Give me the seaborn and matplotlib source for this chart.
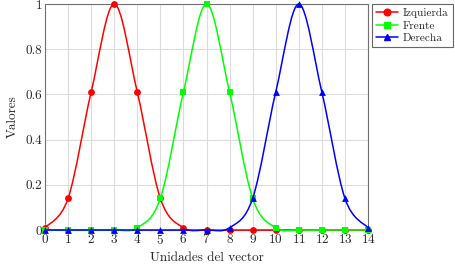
import matplotlib
matplotlib.use("Agg")
import matplotlib.pyplot as plt
from matplotlib.path import Path
from matplotlib.patches import PathPatch
from matplotlib.lines import Line2D
import numpy as np
import pandas as pd
import seaborn as sns

x = list(range(15))
izquierda = [0.01, 0.14, 0.61, 1.0, 0.61, 0.14, 0.01, 0.0, 0.0, 0.0, 0.0, 0.0, 0.0, 0.0, 0.0]
frente = [0.0, 0.0, 0.0, 0.0, 0.01, 0.14, 0.61, 1.0, 0.61, 0.14, 0.01, 0.0, 0.0, 0.0, 0.0]
derecha = [0.0, 0.0, 0.0, 0.0, 0.0, 0.0, 0.0, 0.0, 0.01, 0.14, 0.61, 1.0, 0.61, 0.14, 0.01]

series = [("Izquierda", izquierda, "#ff0000", "o"),
          ("Frente", frente, "#00ff00", "s"),
          ("Derecha", derecha, "#0000ff", "^")]

sns.set_theme(style="whitegrid")
plt.rcParams["font.family"] = ["cmr10", "DejaVu Serif"]
plt.rcParams["mathtext.fontset"] = "cm"
plt.rcParams["axes.formatter.use_mathtext"] = True


def smooth_path(xs, ys, t=1 / 6):
    # bezier through the points (catmull-rom style, like pgfplots "smooth")
    pts = np.column_stack([xs, ys]).astype(float)
    verts = [pts[0]]
    codes = [Path.MOVETO]
    n = len(pts)
    for i in range(n - 1):
        p0 = pts[i - 1] if i > 0 else pts[i]
        p1 = pts[i]
        p2 = pts[i + 1]
        p3 = pts[i + 2] if i + 2 < n else pts[i + 1]
        c1 = p1 + (p2 - p0) * t
        c2 = p2 - (p3 - p1) * t
        verts += [c1, c2, p2]
        codes += [Path.CURVE4] * 3
    return Path(verts, codes)


fig = plt.figure(figsize=(4.55, 2.66), dpi=100)
ax = fig.add_axes([45 / 455, 1 - 230 / 266, (368 - 45) / 455, (230 - 4) / 266])

handles = []
for k, (name, vals, col, mk) in enumerate(series):
    patch = PathPatch(smooth_path(x, vals), facecolor="none", edgecolor=col,
                      lw=1.1, zorder=3 + 2 * k, clip_on=False)
    ax.add_patch(patch)
    df = pd.DataFrame({"x": x, "y": vals})
    sns.scatterplot(data=df, x="x", y="y", ax=ax, color=col, marker=mk, s=24,
                    edgecolor=col, linewidth=0, zorder=4 + 2 * k, clip_on=False, legend=False)
    handles.append(Line2D([], [], color=col, marker=mk, lw=1.1, markersize=4.8, label=name))

ax.set_xlim(0, 14)
ax.set_ylim(0, 1)
ax.set_xticks(range(15))
ax.set_yticks([0, 0.2, 0.4, 0.6, 0.8, 1])
ax.set_yticklabels(["0", "0.2", "0.4", "0.6", "0.8", "1"])
ax.tick_params(labelsize=9.5, length=0, pad=2)
ax.grid(True, color="#dcdcdc", lw=0.8)
for sp in ax.spines.values():
    sp.set_color("#707070")
    sp.set_linewidth(0.8)
ax.set_xlabel("Unidades del vector", fontsize=9.5, labelpad=4)
ax.set_ylabel("Valores", fontsize=9.5, labelpad=5)

leg = fig.legend(handles=handles, loc="upper left", bbox_to_anchor=(372 / 455, 1 - 4 / 266),
                 fontsize=8.1, frameon=True, fancybox=False, borderaxespad=0,
                 handlelength=2.0, handletextpad=0.4, labelspacing=0.25, borderpad=0.35)
leg.get_frame().set_edgecolor("#404040")
leg.get_frame().set_linewidth(0.8)

fig.savefig("out.png", dpi=100)
